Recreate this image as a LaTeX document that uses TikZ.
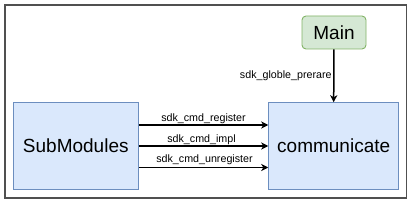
\documentclass[tikz,border=0pt]{standalone}
\usepackage{fontspec}
\setmainfont{Liberation Sans}
\usetikzlibrary{arrows.meta}
\definecolor{bfill}{HTML}{DAE8FC}
\definecolor{bline}{HTML}{6C8EBF}
\definecolor{gfill}{HTML}{D5E8D4}
\definecolor{gline}{HTML}{82B366}
\definecolor{frame}{HTML}{505050}
\begin{document}
\begin{tikzpicture}[x=1pt,y=-1pt,
  bluebox/.style={draw=bline,fill=bfill,line width=0.9pt,minimum height=86.6pt,inner sep=0pt,font=\fontsize{19}{22}\selectfont},
  greenbox/.style={draw=gline,fill=gfill,line width=0.9pt,rounded corners=4pt,minimum width=64pt,minimum height=33pt,inner sep=0pt,font=\fontsize{19}{22}\selectfont},
  arr/.style={line width=1.5pt,-{Stealth[length=7pt,width=7pt,inset=2pt]}},
  lbl/.style={font=\fontsize{10.7}{12}\selectfont,inner sep=1pt}]
\useasboundingbox (0,0) rectangle (414,203);
\draw[frame,line width=1.2pt] (5,5) rectangle (406.5,198);
\node[bluebox,minimum width=125pt] (sub) at (75.8,146) {SubModules};
\node[bluebox,minimum width=130pt] (comm) at (333.7,146) {communicate};
\node[greenbox] (main) at (334,32.5) {Main};
\draw[arr] (main) -- (comm.north) node[lbl,anchor=east,pos=0.5,xshift=-0.5pt] {sdk\_globle\_prerare};
\draw[arr] ([yshift=21pt]sub.east) -- ([yshift=21pt]comm.west) node[lbl,midway,above] {sdk\_cmd\_register};
\draw[arr] (sub.east) -- (comm.west) node[lbl,midway,above,xshift=-2pt] {sdk\_cmd\_impl};
\draw[arr] ([yshift=-21.5pt]sub.east) -- ([yshift=-21.5pt]comm.west) node[lbl,midway,above,xshift=1pt,yshift=1pt] {sdk\_cmd\_unregister};
\end{tikzpicture}
\end{document}
